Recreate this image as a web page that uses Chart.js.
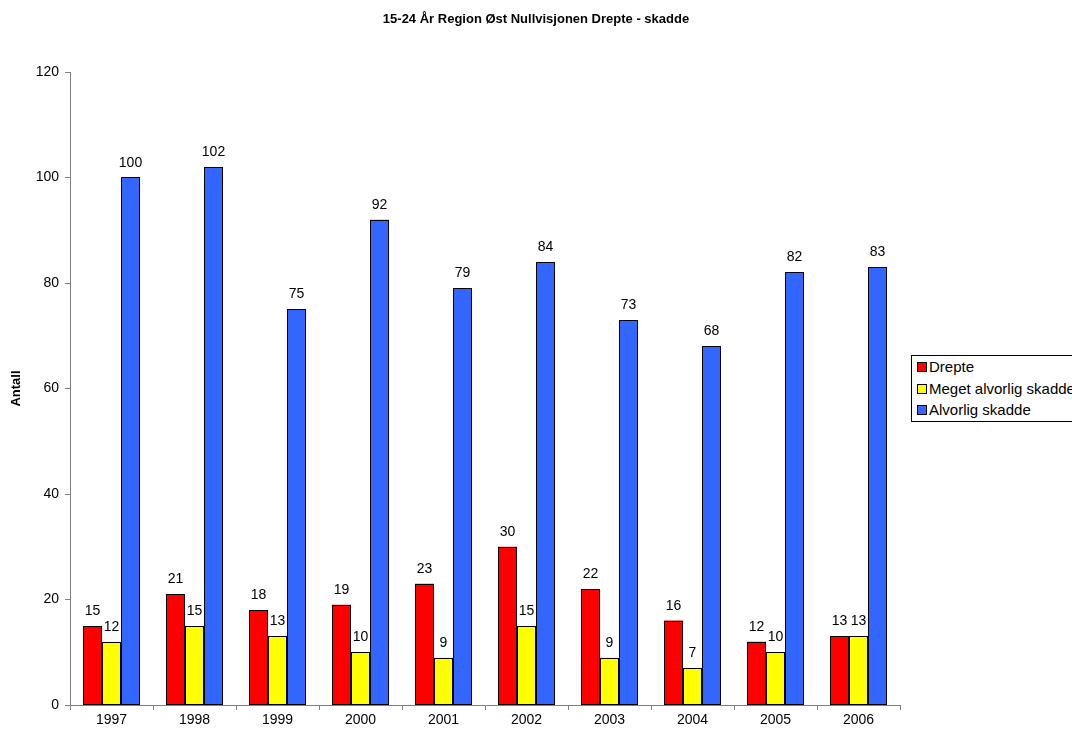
<!DOCTYPE html>
<html>
<head>
<meta charset="utf-8">
<script src="https://cdn.jsdelivr.net/npm/chart.js@4/dist/chart.umd.min.js"></script>
<style>
  html, body { margin: 0; padding: 0; background: #fff; }
  #wrap { position: relative; width: 1072px; height: 736px; overflow: hidden; font-family: "Liberation Sans", Arial, sans-serif; }
  #title { position: absolute; left: 0; width: 1072px; top: 11px; text-align: center; font-weight: bold; font-size: 13px; color: #000; }
  #legend { position: absolute; left: 911px; top: 355px; width: 180px; height: 67px; border: 1px solid #000; box-sizing: border-box; background: #fff; font-size: 15px; color: #000; }
  .item { position: absolute; left: 5px; white-space: nowrap; line-height: 16px; }
  .sw { display: inline-block; width: 8px; height: 8px; border: 1px solid #000; margin-right: 2px; vertical-align: 0px; }
</style>
</head>
<body>
<div id="wrap">
  <canvas id="c" width="1072" height="736"></canvas>
  <div id="title">15-24 År Region Øst Nullvisjonen Drepte - skadde</div>
  <div id="legend"></div>
</div>
<script>
const years = ['1997', '1998', '1999', '2000', '2001', '2002', '2003', '2004', '2005', '2006'];
const drepte = [15, 21, 18, 19, 23, 30, 22, 16, 12, 13];
const megetAlvorlig = [12, 15, 13, 10, 9, 15, 9, 7, 10, 13];
const alvorlig = [100, 102, 75, 92, 79, 84, 73, 68, 82, 83];
const seriesNames = ['Drepte', 'Meget alvorlig skadde', 'Alvorlig skadde'];
const seriesColors = ['#FF0000', '#FFFF00', '#3366FF'];

const FONT = '"Liberation Sans", Arial, sans-serif';

// Legend entries
const legend = document.getElementById('legend');
const rowTops = [3, 25, 46];
seriesNames.forEach((name, i) => {
  const d = document.createElement('div');
  d.className = 'item';
  d.style.top = rowTops[i] + 'px';
  d.innerHTML = '<span class="sw" style="background:' + seriesColors[i] + '"></span>' + name;
  legend.appendChild(d);
});

// Crisp black outline around every bar, then the value label above it
const barDecor = {
  id: 'barDecor',
  afterDatasetsDraw(chart) {
    const ctx = chart.ctx;
    ctx.save();
    ctx.strokeStyle = '#000';
    ctx.lineWidth = 1;
    chart.data.datasets.forEach((ds, di) => {
      chart.getDatasetMeta(di).data.forEach((bar) => {
        const p = bar.getProps(['x', 'y', 'base', 'width'], true);
        const l = Math.round(p.x - p.width / 2) + 0.5;
        const r = Math.round(p.x + p.width / 2) - 0.5;
        const t = Math.round(p.y) + 0.5;
        const b = Math.round(p.base) - 0.5;
        ctx.strokeRect(l, t, r - l, b - t);
      });
    });
    ctx.font = '14px ' + FONT;
    ctx.fillStyle = '#000';
    ctx.textAlign = 'center';
    ctx.textBaseline = 'alphabetic';
    chart.data.datasets.forEach((ds, di) => {
      chart.getDatasetMeta(di).data.forEach((bar, i) => {
        ctx.fillText(String(ds.data[i]), bar.x, bar.y - 11);
      });
    });
    ctx.restore();
  }
};

new Chart(document.getElementById('c'), {
  type: 'bar',
  data: {
    labels: years,
    datasets: [
      { label: seriesNames[0], data: drepte, backgroundColor: seriesColors[0], borderWidth: 0 },
      { label: seriesNames[1], data: megetAlvorlig, backgroundColor: seriesColors[1], borderWidth: 0 },
      { label: seriesNames[2], data: alvorlig, backgroundColor: seriesColors[2], borderWidth: 0 }
    ]
  },
  options: {
    responsive: false,
    animation: false,
    devicePixelRatio: 1,
    layout: { padding: { top: 72, right: 172, left: 0, bottom: 0 } },
    datasets: { bar: { categoryPercentage: 57 / 83, barPercentage: 1.0, inflateAmount: 0 } },
    plugins: { legend: { display: false }, title: { display: false }, tooltip: { enabled: false } },
    scales: {
      x: {
        grid: { display: true, drawOnChartArea: false, drawTicks: true, tickLength: 5, color: '#808080', offset: true },
        border: { color: '#808080', width: 1 },
        ticks: { color: '#000', font: { family: FONT, size: 14 }, padding: 2, maxRotation: 0 },
        afterFit(scale) { scale.height = 31; }
      },
      y: {
        min: 0, max: 120,
        ticks: { stepSize: 20, color: '#000', font: { family: FONT, size: 14 }, padding: 6 },
        grid: { display: true, drawOnChartArea: false, drawTicks: true, tickLength: 5, color: '#808080' },
        border: { color: '#808080', width: 1 },
        title: { display: true, text: 'Antall', color: '#000', font: { family: FONT, size: 13, weight: 'bold' }, padding: { top: 9, bottom: 0 } },
        afterFit(scale) { scale.width = 70; }
      }
    }
  },
  plugins: [barDecor]
});
</script>
</body>
</html>
